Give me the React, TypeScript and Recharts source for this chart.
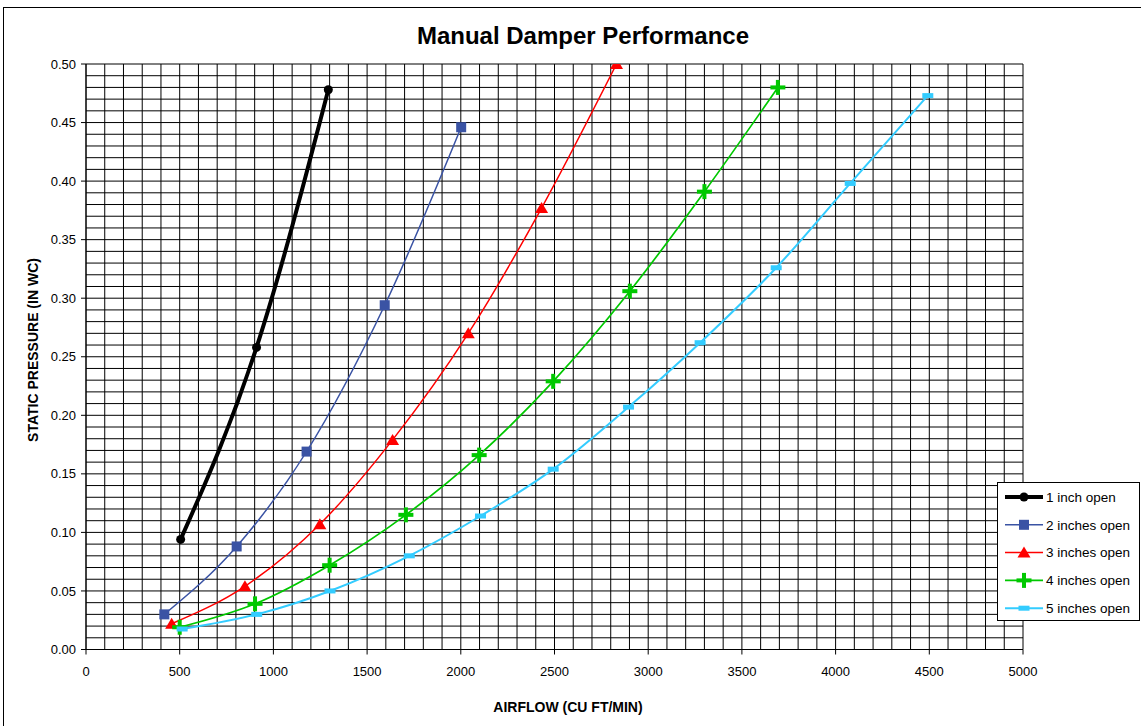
import React from 'react';
import { LineChart, Line, XAxis, YAxis, CartesianGrid } from 'recharts';

const FONT = '"Liberation Sans", Arial, sans-serif';

// axis tick labels (grid runs every 100 cfm / 0.01 in wc)
const X_LABELS = [0, 500, 1000, 1500, 2000, 2500, 3000, 3500, 4000, 4500, 5000];
const Y_LABELS = [0, 0.05, 0.1, 0.15, 0.2, 0.25, 0.3, 0.35, 0.4, 0.45, 0.5];
const X_GRID = Array.from({ length: 51 }, (_, i) => i * 100);
const Y_GRID = Array.from({ length: 51 }, (_, i) => i / 100);

// series values
const AIRFLOW_1 = [505, 910, 1293];
const PRESSURE_1 = [0.094, 0.258, 0.478];
const AIRFLOW_2 = [418, 804, 1177, 1594, 2002];
const PRESSURE_2 = [0.03, 0.088, 0.169, 0.294, 0.446];
const AIRFLOW_3 = [457, 848, 1248, 1636, 2040, 2431, 2831];
const PRESSURE_3 = [0.022, 0.054, 0.107, 0.179, 0.27, 0.377, 0.5];
const AIRFLOW_4 = [500, 902, 1300, 1707, 2098, 2493, 2902, 3300, 3692];
const PRESSURE_4 = [0.019, 0.039, 0.072, 0.115, 0.166, 0.229, 0.306, 0.391, 0.48];
const AIRFLOW_5 = [513, 911, 1302, 1725, 2105, 2493, 2895, 3277, 3683, 4078, 4492];
const PRESSURE_5 = [0.0175, 0.03, 0.05, 0.08, 0.114, 0.154, 0.207, 0.262, 0.326, 0.398, 0.473];

const toRows = (xs: number[], ys: number[]) => xs.map((x, i) => ({ x, y: ys[i] }));

type Marker = 'circle' | 'square' | 'triangle' | 'plus' | 'dash';

const SERIES: { name: string; color: string; width: number; marker: Marker; data: { x: number; y: number }[] }[] = [
  { name: '1 inch open', color: '#000000', width: 4, marker: 'circle', data: toRows(AIRFLOW_1, PRESSURE_1) },
  { name: '2 inches open', color: '#3A53A4', width: 1.5, marker: 'square', data: toRows(AIRFLOW_2, PRESSURE_2) },
  { name: '3 inches open', color: '#FF0000', width: 1.5, marker: 'triangle', data: toRows(AIRFLOW_3, PRESSURE_3) },
  { name: '4 inches open', color: '#00C800', width: 1.7, marker: 'plus', data: toRows(AIRFLOW_4, PRESSURE_4) },
  { name: '5 inches open', color: '#33CCFF', width: 2, marker: 'dash', data: toRows(AIRFLOW_5, PRESSURE_5) },
];

function MarkerShape({ kind, cx, cy, color }: { kind: Marker; cx: number; cy: number; color: string }) {
  switch (kind) {
    case 'circle':
      return <circle cx={cx} cy={cy} r={4.5} fill={color} />;
    case 'square':
      return <rect x={cx - 5} y={cy - 5} width={10} height={10} fill={color} />;
    case 'triangle':
      return <polygon points={`${cx},${cy - 6} ${cx + 6.5},${cy + 5} ${cx - 6.5},${cy + 5}`} fill={color} />;
    case 'plus':
      return (
        <g fill={color}>
          <rect x={cx - 7.5} y={cy - 2} width={15} height={4} />
          <rect x={cx - 2} y={cy - 7.5} width={4} height={15} />
        </g>
      );
    default:
      return <rect x={cx - 5.5} y={cy - 2.5} width={11} height={5} fill={color} />;
  }
}

function XTick(props: any) {
  const { x, y, payload } = props;
  const v = payload.value;
  if (v % 500 !== 0) return <g />;
  return (
    <g>
      <line x1={x} x2={x} y1={y - 17} y2={y - 12} stroke="#000" />
      <text x={x} y={y} dy="0.71em" textAnchor="middle" fontSize={13} fontFamily={FONT} fill="#000">
        {v}
      </text>
    </g>
  );
}

function YTick(props: any) {
  const { x, y, payload } = props;
  const v = payload.value;
  if (Math.round(v * 100) % 5 !== 0) return <g />;
  return (
    <g>
      <line x1={x + 5} x2={x + 10} y1={y} y2={y} stroke="#000" />
      <text x={x} y={y} dy="0.355em" textAnchor="end" fontSize={13} fontFamily={FONT} fill="#000">
        {v.toFixed(2)}
      </text>
    </g>
  );
}

function ChartLegend() {
  return (
    <div style={{ position: 'absolute', left: 997, top: 482, width: 143, height: 139, border: '1px solid #000', background: '#fff', boxSizing: 'border-box' }}>
      <svg width={143} height={139}>
        {SERIES.map((s, i) => {
          const cy = 14 + i * 27.8;
          return (
            <g key={s.name}>
              <line x1={7} x2={45} y1={cy} y2={cy} stroke={s.color} strokeWidth={s.width} />
              <MarkerShape kind={s.marker} cx={26} cy={cy} color={s.color} />
              <text x={48} y={cy} dy="0.355em" fontSize={13.5} fontFamily={FONT} fill="#000">{s.name}</text>
            </g>
          );
        })}
      </svg>
    </div>
  );
}

export default function App() {
  return (
    <div style={{ position: 'absolute', left: 0, top: 0, width: 1141, height: 726, overflow: 'hidden', background: '#fff', fontFamily: FONT }}>
      <div style={{ position: 'absolute', left: 3, top: 7, width: 1160, height: 740, border: '1px solid #000' }} />
      <div style={{ position: 'absolute', left: 0, top: 0 }}>
        <LineChart width={1141} height={726} margin={{ top: 64, right: 118, bottom: 0, left: 0 }}>
          <CartesianGrid stroke="#000" strokeWidth={1} />
          <XAxis
            type="number"
            dataKey="x"
            domain={[0, 5000]}
            ticks={X_GRID}
            interval={0}
            height={76.5}
            tickSize={5}
            tickMargin={12}
            tickLine={false}
            axisLine={{ stroke: '#000' }}
            tick={<XTick />}
            allowDataOverflow
          />
          <YAxis
            type="number"
            dataKey="y"
            domain={[0, 0.5]}
            ticks={Y_GRID}
            interval={0}
            width={86}
            tickSize={5}
            tickMargin={5}
            tickLine={false}
            axisLine={{ stroke: '#000' }}
            tick={<YTick />}
            allowDataOverflow
          />
          {SERIES.map(s => (
            <Line
              key={s.name}
              data={s.data}
              dataKey="y"
              name={s.name}
              type="monotone"
              stroke={s.color}
              strokeWidth={s.width}
              isAnimationActive={false}
              dot={(p: any) => <MarkerShape key={`${s.name}-${p.index}`} kind={s.marker} cx={p.cx} cy={p.cy} color={s.color} />}
              activeDot={false}
            />
          ))}
        </LineChart>
      </div>
      <ChartLegend />
      <div style={{ position: 'absolute', left: 383, width: 400, top: 22, textAlign: 'center', fontSize: 24, fontWeight: 'bold', lineHeight: '28px' }}>
        Manual Damper Performance
      </div>
      <div style={{ position: 'absolute', left: 368, width: 400, top: 698, textAlign: 'center', fontSize: 14, fontWeight: 'bold', lineHeight: '18px' }}>
        AIRFLOW (CU FT/MIN)
      </div>
      <div style={{ position: 'absolute', left: 33 - 150, top: 350 - 9, width: 300, height: 18, textAlign: 'center', fontSize: 14, fontWeight: 'bold', lineHeight: '18px', transform: 'rotate(-90deg)' }}>
        STATIC PRESSURE (IN WC)
      </div>
    </div>
  );
}
